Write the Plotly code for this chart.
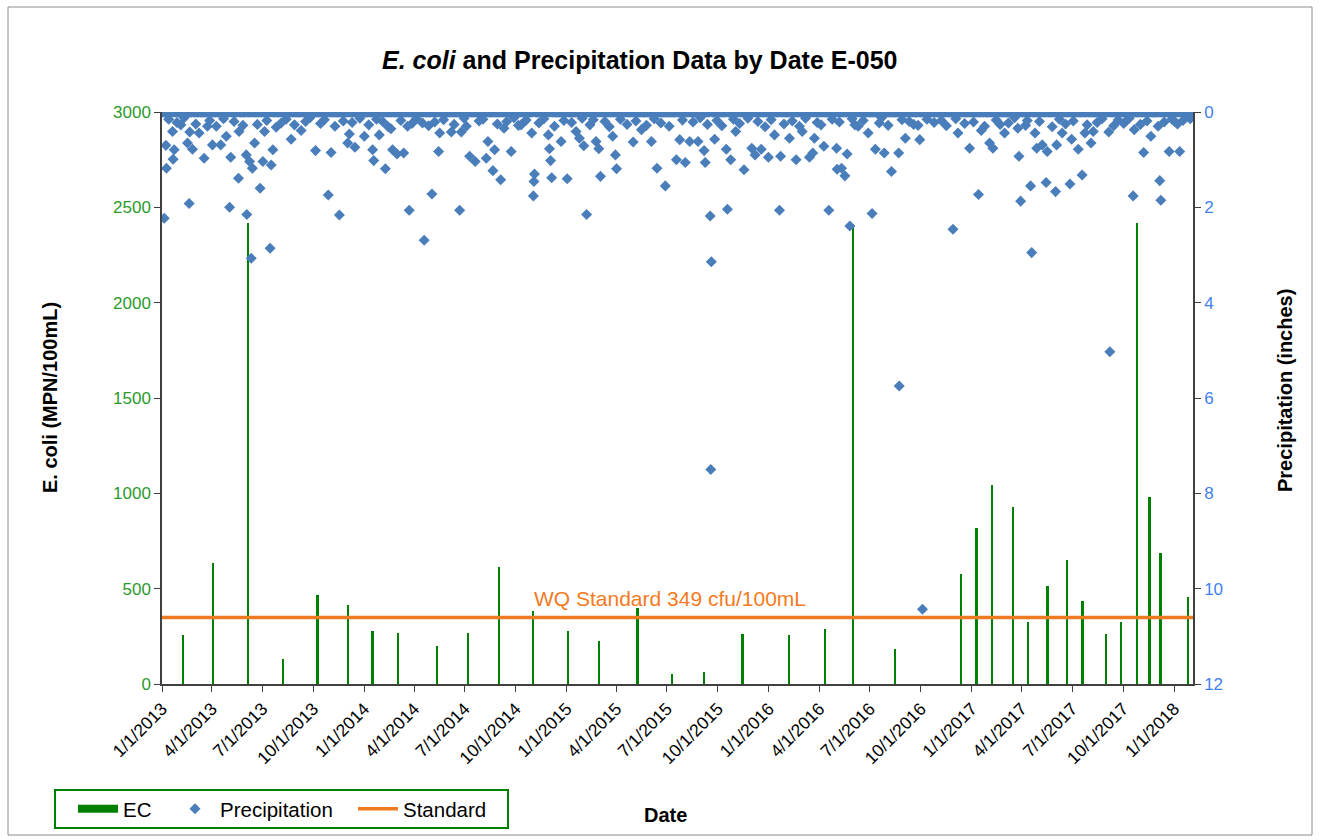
import pandas as pd
import plotly.graph_objects as go

# ---------------- data ----------------
ec_dates = ["2013-02-08", "2013-04-03", "2013-06-06", "2013-08-08", "2013-10-09", "2013-12-03",
            "2014-01-16", "2014-03-03", "2014-05-13", "2014-07-07", "2014-09-02", "2014-11-02",
            "2015-01-04", "2015-03-01", "2015-05-09", "2015-07-11", "2015-09-06", "2015-11-15",
            "2016-02-07", "2016-04-11", "2016-06-01", "2016-08-16", "2016-12-13", "2017-01-10",
            "2017-02-07", "2017-03-17", "2017-04-13", "2017-05-18", "2017-06-22", "2017-07-20",
            "2017-08-31", "2017-09-27", "2017-10-26", "2017-11-18", "2017-12-08", "2018-01-26"]
ec_values = [259, 635, 2420, 133, 465, 413,
             276, 266, 201, 266, 614, 381,
             276, 224, 397, 52, 62, 262,
             257, 288, 2414, 184, 576, 818,
             1044, 929, 326, 516, 651, 436,
             262, 326, 2420, 981, 687, 456]

# wet days (inches); all other days in the record plot on the 0 line
wet_dates = [
    "2013-01-05", "2013-01-09", "2013-01-08", "2013-01-23", "2013-01-21", "2013-01-20",
    "2013-02-19", "2013-02-16", "2013-02-25", "2013-02-20", "2013-03-18", "2013-03-09",
    "2013-04-02", "2013-04-17", "2013-05-05", "2013-05-03", "2013-05-19", "2013-06-03",
    "2013-06-11", "2013-07-15", "2013-06-27", "2013-06-02", "2013-06-08", "2013-06-13",
    "2013-06-17", "2013-07-02", "2013-07-17", "2013-07-20", "2013-05-20", "2013-07-05",
    "2013-08-22", "2013-09-09", "2013-10-05", "2013-10-28", "2013-11-02", "2013-02-04",
    "2013-03-24", "2013-04-27", "2013-08-04",
    "2013-11-17", "2013-12-05", "2013-12-02", "2013-12-15", "2014-01-01", "2014-01-16",
    "2014-01-18", "2014-01-28", "2014-02-08", "2014-02-18", "2014-02-21", "2014-03-01",
    "2014-03-13", "2014-03-23", "2014-04-19", "2014-05-03", "2014-05-15", "2014-05-17",
    "2014-06-22", "2014-06-07", "2014-06-25", "2014-07-10", "2014-07-20", "2014-08-09",
    "2014-08-12", "2014-08-21", "2014-08-24", "2014-09-04", "2014-03-20", "2014-04-16",
    "2014-09-10", "2014-09-23", "2014-10-30", "2014-11-04", "2014-11-03", "2014-11-02",
    "2014-12-01", "2014-12-03", "2014-12-05", "2014-11-29", "2014-12-22", "2015-01-02",
    "2015-01-18", "2015-02-01", "2015-02-06", "2015-01-24", "2015-02-23", "2015-02-28",
    "2015-03-03", "2015-03-25", "2015-03-30", "2015-04-01", "2015-05-01", "2015-06-03",
    "2015-06-13", "2015-06-28", "2015-05-16", "2014-10-11",
    "2015-07-18", "2015-08-03", "2015-07-24", "2015-08-11", "2015-08-26", "2015-09-06",
    "2015-09-08", "2015-09-17", "2015-09-19", "2015-09-18", "2015-10-18", "2015-10-16",
    "2015-10-24", "2015-09-25", "2015-11-02", "2015-11-17", "2015-12-01", "2015-12-07",
    "2015-12-18", "2015-12-31", "2016-01-11", "2016-01-20", "2016-01-22", "2016-02-07",
    "2016-02-19", "2016-03-01", "2016-03-14", "2016-03-20", "2016-03-23", "2016-04-09",
    "2016-04-18", "2016-05-02", "2016-05-03",
    "2016-05-21", "2016-05-11", "2016-05-17", "2016-05-26", "2016-07-05", "2016-07-11",
    "2016-07-27", "2016-08-09", "2016-08-22", "2016-08-23", "2016-09-03", "2016-09-29",
    "2016-09-26", "2016-06-28", "2016-06-04", "2016-10-04", "2016-11-28", "2017-01-13",
    "2016-12-28", "2017-01-18", "2017-02-02", "2017-02-08", "2016-12-07", "2017-03-01",
    "2017-03-25", "2017-03-27", "2017-03-30", "2017-04-17", "2017-04-19", "2017-04-25",
    "2017-04-28", "2017-05-08", "2017-05-17", "2017-05-15", "2017-06-01", "2017-06-03",
    "2017-06-13", "2017-06-27", "2017-06-30", "2017-07-12", "2017-07-19", "2017-07-24",
    "2017-08-04", "2017-08-08", "2017-09-05", "2017-09-07", "2017-10-07", "2017-10-19",
    "2017-10-21", "2017-11-07", "2017-11-20", "2017-12-03", "2017-12-06", "2017-12-08",
    "2017-12-23", "2018-01-02", "2018-01-11", "2018-01-23",
]
wet_values = [
    2.23, 1.18, 0.70, 0.79, 0.99, 0.41,
    1.92, 0.65, 0.78, 0.42, 0.97, 0.44,
    0.69, 0.69, 0.95, 2.00, 1.39, 2.15,
    3.07, 2.86, 1.60, 0.90, 1.04, 1.18,
    0.65, 1.04, 1.11, 0.79, 0.41, 0.41,
    0.57, 0.39, 0.81, 1.74, 0.85, 0.27,
    0.30, 0.51, 0.23,
    2.16, 0.46, 0.65, 0.74, 0.51, 0.79,
    1.02, 0.48, 1.19, 0.35, 0.79, 0.88,
    0.86, 2.06, 2.69, 1.72, 0.83, 0.44,
    2.06, 0.42, 0.42, 0.93, 1.04, 0.97,
    0.62, 1.23, 0.79, 1.42, 0.30, 0.23,
    0.34, 0.83, 0.44, 1.30, 1.46, 1.76,
    0.77, 1.02, 1.38, 0.48, 0.62, 1.40,
    0.41, 0.71, 2.15, 0.55, 0.62, 0.77,
    1.35, 0.51, 0.90, 1.19, 0.63, 0.62,
    1.18, 1.55, 0.37, 0.27,
    1.00, 1.06, 0.58, 0.62, 0.62, 0.81,
    1.06, 2.18, 3.14, 7.50, 2.04, 0.78,
    1.00, 0.57, 0.41, 1.21, 0.76, 0.90,
    0.78, 0.95, 0.48, 2.06, 0.93, 0.55,
    1.00, 0.41, 0.95, 0.86, 0.55, 0.72,
    2.06, 0.76, 1.20,
    0.88, 1.18, 1.34, 2.39, 2.13, 0.78,
    0.86, 1.25, 0.86, 5.75, 0.55, 0.58,
    0.28, 0.44, 0.27, 10.43, 2.46, 1.73,
    0.76, 0.39, 0.65, 0.76, 0.44, 0.44,
    0.34, 0.93, 1.87, 1.55, 2.95, 0.44,
    0.76, 0.69, 0.83, 1.48, 1.67, 0.69,
    0.44, 1.51, 0.57, 0.78, 1.32, 0.44,
    0.65, 0.41, 0.42, 5.03, 0.18, 1.76,
    0.37, 0.85, 0.51, 0.30, 1.44, 1.85,
    0.83, 0.20, 0.83, 0.09,
]

# light-rain days forming the thick band just under the 0 line (inches)
trace_dates = [
    "2013-01-13", "2013-01-28", "2013-02-10", "2013-03-03", "2013-03-28", "2013-04-09",
    "2013-04-22", "2013-05-11", "2013-05-27", "2013-06-22", "2013-07-09", "2013-07-26",
    "2013-08-13", "2013-08-28", "2013-09-17", "2013-09-25", "2013-10-14", "2013-10-21",
    "2013-11-09", "2013-11-24", "2013-12-10", "2013-12-24",
    "2014-01-09", "2014-01-23", "2014-02-03", "2014-02-13", "2014-03-08", "2014-03-28",
    "2014-04-05", "2014-04-27", "2014-05-08", "2014-05-24", "2014-06-12", "2014-06-30",
    "2014-07-04", "2014-07-27", "2014-08-03", "2014-08-29", "2014-09-15", "2014-09-28",
    "2014-10-06", "2014-10-20", "2014-11-12", "2014-11-21", "2014-12-10", "2014-12-27",
    "2015-01-10", "2015-01-29", "2015-02-12", "2015-02-18", "2015-03-11", "2015-03-19",
    "2015-04-08", "2015-04-20", "2015-05-06", "2015-05-25", "2015-06-08", "2015-06-20",
    "2015-07-05", "2015-07-29", "2015-08-17", "2015-08-30", "2015-09-12", "2015-09-29",
    "2015-10-08", "2015-10-29", "2015-11-09", "2015-11-24", "2015-12-12", "2015-12-25",
    "2016-01-05", "2016-01-28", "2016-02-12", "2016-02-25", "2016-03-07", "2016-03-28",
    "2016-04-04", "2016-04-24", "2016-05-07", "2016-05-30", "2016-06-10", "2016-06-19",
    "2016-07-18", "2016-07-22", "2016-08-03", "2016-08-28", "2016-09-10", "2016-09-18",
    "2016-10-12", "2016-10-25", "2016-11-07", "2016-11-16", "2016-12-19", "2016-12-03",
    "2017-01-04", "2017-01-24", "2017-02-14", "2017-02-21", "2017-03-08", "2017-03-19",
    "2017-04-08", "2017-04-11", "2017-05-03", "2017-05-26", "2017-06-08", "2017-06-19",
    "2017-07-03", "2017-07-28", "2017-08-15", "2017-08-24", "2017-09-14", "2017-09-22",
    "2017-10-02", "2017-10-12", "2017-11-01", "2017-11-13", "2017-12-14", "2017-12-28",
    "2018-01-07", "2018-01-17", "2018-01-30",
]
trace_values = [
    0.15, 0.22, 0.12, 0.25, 0.18, 0.30,
    0.14, 0.20, 0.28, 0.26, 0.18, 0.32,
    0.15, 0.27, 0.20, 0.12, 0.24, 0.16,
    0.30, 0.19, 0.22, 0.13,
    0.27, 0.15, 0.20, 0.31, 0.18, 0.24,
    0.14, 0.29, 0.21, 0.16, 0.26, 0.13,
    0.30, 0.19, 0.15, 0.25, 0.20, 0.12,
    0.28, 0.17, 0.23, 0.14, 0.30, 0.18,
    0.22, 0.13, 0.27, 0.16, 0.20, 0.31,
    0.15, 0.26, 0.19, 0.28, 0.14, 0.23,
    0.30, 0.17, 0.21, 0.12, 0.26, 0.18,
    0.29, 0.15, 0.24, 0.13, 0.20, 0.31,
    0.16, 0.25, 0.19, 0.30, 0.13, 0.22,
    0.27, 0.15, 0.21, 0.14, 0.30, 0.18,
    0.23, 0.12, 0.28, 0.16, 0.20, 0.26,
    0.15, 0.22, 0.18, 0.29, 0.24, 0.14,
    0.21, 0.30, 0.17, 0.26, 0.23, 0.12,
    0.28, 0.18, 0.20, 0.31, 0.15, 0.25,
    0.19, 0.27, 0.22, 0.14, 0.29, 0.17,
    0.24, 0.13, 0.26, 0.19, 0.21, 0.15,
    0.25, 0.18, 0.14,
]
record_start = "2013-01-01"
record_end = "2018-02-04"
standard_value = 349

# ---------------- build precipitation series ----------------
days = pd.date_range(record_start, record_end, freq="D")
precip = pd.Series(0.0, index=days)
wet = pd.concat([pd.Series(trace_values, index=pd.to_datetime(trace_dates)),
                 pd.Series(wet_values, index=pd.to_datetime(wet_dates))])
precip_dry = precip.drop(wet.index, errors="ignore")

FONT = "Arial, Liberation Sans, sans-serif"
GREEN = "#008000"
BLUE = "#4A7EBB"
ORANGE = "#EE7B22"

# plot area in pixels
L, R, T, B = 162, 1193, 112, 684
W, H = R - L, B - T
def px_x(px):
    return (px - L) / W
def px_y(py):
    return (B - py) / H

fig = go.Figure()

fig.add_trace(go.Bar(
    x=pd.to_datetime(ec_dates), y=ec_values, name="EC",
    marker=dict(color=GREEN, line=dict(width=0)),
    width=3.3 * 24 * 3600 * 1000, showlegend=False, yaxis="y",
))
# legend entry for EC (wide bar glyph)
fig.add_trace(go.Scatter(x=[None], y=[None], mode="lines", name="EC",
                         line=dict(color=GREEN, width=8), yaxis="y", legend="legend"))

allx = list(precip_dry.index) + list(wet.index)
ally = list(precip_dry.values) + list(wet.values)
fig.add_trace(go.Scatter(
    x=allx, y=ally, mode="markers", name="Precipitation", yaxis="y2", legend="legend2",
    marker=dict(symbol="diamond", size=8.5, color=BLUE, line=dict(width=0)),
))

fig.add_trace(go.Scatter(
    x=[pd.Timestamp(record_start), pd.Timestamp(record_end)],
    y=[standard_value, standard_value], mode="lines", name="Standard",
    line=dict(color=ORANGE, width=3.5), yaxis="y", legend="legend3",
))

leg_common = dict(orientation="h", xref="container", yref="container",
                  xanchor="left", yanchor="middle", y=1 - 809 / 840,
                  borderwidth=0, bgcolor="rgba(0,0,0,0)",
                  font=dict(size=20.5, color="black"), itemwidth=40)

fig.update_layout(
    width=1324, height=840,
    margin=dict(l=L, r=1324 - R, t=T, b=840 - B),
    paper_bgcolor="white", plot_bgcolor="white",
    font=dict(family=FONT, color="black"),
    bargap=0,
    xaxis=dict(
        type="date", range=[record_start, record_end],
        tick0="2013-01-01", dtick="M3", tickformat="%-m/%-d/%Y",
        tickangle=-45, tickfont=dict(size=17.5, color="black"),
        ticks="outside", ticklen=6, tickcolor="#404040",
        showline=True, linecolor="#404040", linewidth=1.5,
        showgrid=False, zeroline=False, automargin=False,
    ),
    yaxis=dict(
        range=[0, 3000], dtick=500, tickfont=dict(size=17, color="#2A9A2A"),
        ticks="outside", ticklen=6, tickcolor="#404040",
        showline=True, linecolor="#404040", linewidth=1.5,
        showgrid=False, zeroline=False, automargin=False,
    ),
    yaxis2=dict(
        overlaying="y", side="right", range=[12, 0], dtick=2,
        tickfont=dict(size=17, color="#3F7FEF"),
        ticks="outside", ticklen=6, tickcolor="#404040",
        showline=True, linecolor="#404040", linewidth=1.5,
        showgrid=False, zeroline=False, automargin=False,
    ),
    legend=dict(x=73 / 1324, **leg_common),
    legend2=dict(x=170 / 1324, **leg_common),
    legend3=dict(x=353 / 1324, **leg_common),
    showlegend=True,
)

annotations = [
    dict(text="<b><i>E. coli</i> and Precipitation Data by Date E-050</b>", x=px_x(639), y=px_y(60),
         xref="paper", yref="paper", showarrow=False, font=dict(size=25, color="black"),
         xanchor="center", yanchor="middle"),
    dict(text="<b>E. coli (MPN/100mL)</b>", x=px_x(50), y=px_y(398), xref="paper", yref="paper",
         showarrow=False, textangle=-90, font=dict(size=20, color="black"),
         xanchor="center", yanchor="middle"),
    dict(text="<b>Precipitation (inches)</b>", x=px_x(1285), y=px_y(391), xref="paper", yref="paper",
         showarrow=False, textangle=-90, font=dict(size=20, color="black"),
         xanchor="center", yanchor="middle"),
    dict(text="<b>Date</b>", x=px_x(665), y=px_y(815), xref="paper", yref="paper",
         showarrow=False, font=dict(size=20, color="black"),
         xanchor="center", yanchor="middle"),
    dict(text="WQ Standard 349 cfu/100mL", x=px_x(670), y=px_y(598), xref="paper", yref="paper",
         showarrow=False, font=dict(size=21, color="#F57A1E"),
         xanchor="center", yanchor="middle"),
]
fig.update_layout(annotations=annotations)

# outer chart border and legend box
fig.add_shape(type="rect", xref="paper", yref="paper",
              x0=px_x(8), x1=px_x(1312), y0=px_y(835), y1=px_y(7),
              line=dict(color="#8C8C8C", width=1), fillcolor="rgba(0,0,0,0)", layer="below")
fig.add_shape(type="rect", xref="paper", yref="paper",
              x0=px_x(55), x1=px_x(508), y0=px_y(828), y1=px_y(790),
              line=dict(color=GREEN, width=2), fillcolor="rgba(0,0,0,0)", layer="below")

fig.write_html("out.html")
